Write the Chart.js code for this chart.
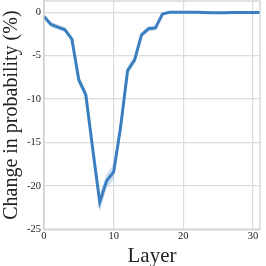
<!DOCTYPE html>
<html><head><meta charset="utf-8">
<script src="https://cdn.jsdelivr.net/npm/chart.js@4"></script>
<style>html,body{margin:0;padding:0;background:#fff}#c{display:block}</style>
</head><body>
<canvas id="c" width="266" height="266"></canvas>
<script>
const layers = [0,1,2,3,4,5,6,7,8,9,10,11,12,13,14,15,16,17,18,19,20,21,22,23,24,25,26,27,28,29,30,31];
const change = [-0.5,-1.4,-1.7,-2.0,-3.1,-7.8,-9.5,-15.8,-21.9,-19.4,-18.4,-13.2,-6.7,-5.5,-2.6,-1.9,-1.8,-0.2,0,0,0,0,0,-0.02,-0.05,-0.05,-0.04,-0.03,-0.02,-0.02,-0.02,-0.02];
const upper = [-0.3,-1.1,-1.4,-1.7,-2.8,-7.3,-9.0,-15.2,-20.9,-18.6,-17.5,-12.6,-6.2,-5.1,-2.3,-1.6,-1.5,-0.1,0.05,0.05,0.05,0.05,0.05,0.03,0,0,0.01,0.02,0.03,0.03,0.03,0.03];
const lower = [-0.7,-1.7,-2.0,-2.3,-3.4,-8.3,-10.0,-16.4,-23.0,-20.2,-19.3,-13.8,-7.2,-5.9,-2.9,-2.2,-2.1,-0.3,-0.05,-0.05,-0.05,-0.05,-0.05,-0.07,-0.1,-0.1,-0.09,-0.08,-0.07,-0.07,-0.07,-0.07];
const yTicks = [-25,-20,-15,-10,-5,0];
const xTicks = [0,10,20,30];
const pts = a => layers.map((l,i)=>({x:l,y:a[i]}));
const serif = "'Liberation Serif','DejaVu Serif',serif";
new Chart(document.getElementById('c'), {
  type: 'line',
  data: { datasets: [
    {data: pts(upper), borderWidth:0, pointRadius:0, fill:false, backgroundColor:'rgba(60,127,193,0.25)'},
    {data: pts(lower), borderWidth:0, pointRadius:0, fill:'-1', backgroundColor:'rgba(60,127,193,0.25)'},
    {data: pts(change), borderColor:'#3a7fc0', borderWidth:3, pointRadius:0, fill:false, tension:0}
  ]},
  options: {
    responsive:false, animation:false,
    layout:{padding:{top:1,right:6,left:0,bottom:-3}},
    plugins:{legend:{display:false}, tooltip:{enabled:false}},
    scales:{
      x:{type:'linear', min:0, max:31,
        afterBuildTicks: ax => { ax.ticks = xTicks.map(v=>({value:v})); },
        afterFit: ax => { ax.paddingRight = 0; },
        grid:{color:'#dcdcdc', lineWidth:1.2, drawTicks:false},
        border:{color:'#cfcfcf', width:1.2},
        ticks:{color:'#222', font:{family:serif, size:10.5}, padding:1, maxRotation:0},
        title:{display:true, text:'Layer', color:'#222', font:{family:serif, size:21}, padding:{top:0,bottom:0}}
      },
      y:{type:'linear', min:-25, max:1.3,
        afterBuildTicks: ax => { ax.ticks = yTicks.map(v=>({value:v})); },
        afterFit: ax => { ax.paddingTop = 0; ax.paddingBottom = 0; },
        grid:{color:'#dcdcdc', lineWidth:1.2, drawTicks:false},
        border:{color:'#cfcfcf', width:1.2},
        ticks:{color:'#222', font:{family:serif, size:10.5}, padding:3},
        title:{display:true, text:'Change in probability (%)', color:'#222', font:{family:serif, size:20}, padding:{top:0,bottom:0}}
      }
    }
  },
  plugins:[{id:'frame', afterDraw(ch){const a=ch.chartArea,c=ch.ctx;c.save();c.strokeStyle='#cfcfcf';c.lineWidth=1.2;c.strokeRect(a.left,a.top,a.right-a.left,a.bottom-a.top);c.restore();}}]
});
</script>
</body></html>
